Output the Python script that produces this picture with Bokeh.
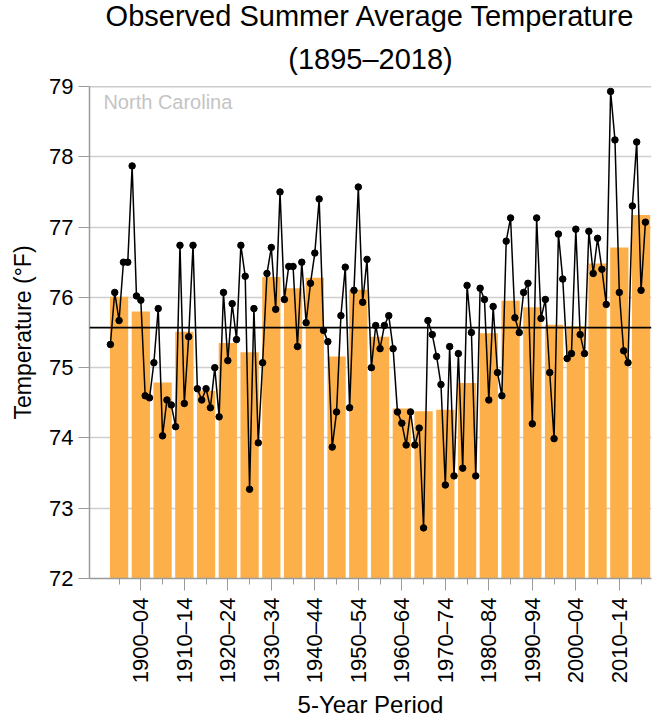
from bokeh.plotting import figure
from bokeh.models import Range1d, FixedTicker, Span, Title, ColumnDataSource
from bokeh.core.properties import value
from bokeh.embed import file_html
from bokeh.resources import INLINE

# ---- data ----
years = list(range(1895, 2019))
temps = [
    75.33, 76.07, 75.67, 76.50, 76.50,
    77.87, 76.02, 75.96, 74.60, 74.57,
    75.07, 75.84, 74.03, 74.54, 74.47,
    74.16, 76.74, 74.49, 75.44, 76.74,
    74.70, 74.54, 74.70, 74.43, 75.00,
    74.30, 76.07, 75.10, 75.91, 75.40,
    76.74, 76.30, 73.27, 75.84, 73.93,
    75.07, 76.34, 76.71, 75.83, 77.50,
    75.97, 76.44, 76.44, 75.30, 76.50,
    75.64, 76.20, 76.63, 77.40, 75.53,
    75.37, 73.87, 74.37, 75.74, 76.43,
    74.43, 76.10, 77.57, 75.93, 76.54,
    75.00, 75.60, 75.27, 75.60, 75.74,
    75.27, 74.37, 74.21, 73.90, 74.37,
    73.90, 74.14, 72.72, 75.67, 75.47,
    75.16, 74.76, 73.33, 75.30, 73.46,
    75.20, 73.57, 76.17, 75.50, 73.46,
    76.13, 75.97, 74.54, 75.87, 74.93,
    74.60, 76.80, 77.13, 75.71, 75.50,
    76.07, 76.20, 74.20, 77.13, 75.70,
    75.97, 74.93, 73.99, 76.90, 76.26,
    75.13, 75.20, 76.97, 75.47, 75.20,
    76.94, 76.34, 76.84, 76.40, 75.90,
    78.93, 78.24, 76.07, 75.24, 75.07,
    77.30, 78.21, 76.10, 77.07,
]
period_starts = list(range(1895, 2019, 5))
period_means = [
    76.01, 75.80, 74.79, 75.51, 74.67, 75.35, 75.22, 76.29, 76.13, 76.28,
    75.16, 76.11, 75.44, 74.42, 74.38, 74.40, 74.78, 75.49, 75.95, 75.86,
    75.61, 75.59, 76.48, 76.71, 77.17,
]
labeled_periods = ["1900–04", "1910–14", "1920–24", "1930–34", "1940–44", "1950–54",
                   "1960–64", "1970–74", "1980–84", "1990–94", "2000–04", "2010–14"]
labeled_starts = [1900, 1910, 1920, 1930, 1940, 1950, 1960, 1970, 1980, 1990, 2000, 2010]
long_term_mean = 75.57
state_name = "North Carolina"
title_line1 = "Observed Summer Average Temperature"
title_line2 = "(1895–2018)"

FONT = "Liberation Sans"

period_centers = [s + 2 for s in period_starts]
bar_src = ColumnDataSource(data=dict(x=period_centers, top=period_means))
line_src = ColumnDataSource(data=dict(x=years, y=temps))

p = figure(
    frame_width=562, frame_height=492,
    x_range=Range1d(1890.2, 2019.4), y_range=Range1d(72, 79),
    output_backend="svg", toolbar_location=None,
    min_border_left=89, min_border_right=14, min_border_top=86, min_border_bottom=143,
)
p.outline_line_color = None
p.background_fill_color = "white"

p.vbar(x="x", top="top", bottom=72, width=4.2, source=bar_src,
       fill_color="#FDAF4A", line_color=None)

p.add_layout(Span(location=long_term_mean, dimension="width",
                  line_color="black", line_width=1.6))

p.line(x="x", y="y", source=line_src, line_color="black", line_width=1.5)
p.scatter(x="x", y="y", source=line_src, size=6.5, fill_color="black", line_color="black")

p.add_layout(Span(location=79, dimension="width", line_color="#9a9a9a", line_width=1.5))

p.text(x=[1893.4], y=[78.93], text=[state_name], text_font=value(FONT),
       text_font_size="20px", text_color="#c4c4c4", text_baseline="top", text_align="left")

# grid
p.xgrid.grid_line_color = None
p.ygrid.grid_line_color = "#cfcfcf"
p.ygrid.grid_line_width = 1.5
p.ygrid.ticker = FixedTicker(ticks=[72, 73, 74, 75, 76, 77, 78])

# y axis
p.yaxis.ticker = FixedTicker(ticks=[72, 73, 74, 75, 76, 77, 78, 79])
p.yaxis.axis_label = "Temperature (°F)"
p.yaxis.axis_label_text_font = FONT
p.yaxis.axis_label_text_font_size = "23px"
p.yaxis.axis_label_text_font_style = "normal"
p.yaxis.axis_label_text_color = "black"
p.yaxis.axis_label_standoff = 10
p.yaxis.major_label_text_font = FONT
p.yaxis.major_label_text_font_size = "22px"
p.yaxis.major_label_text_color = "black"
p.yaxis.axis_line_color = "#9a9a9a"
p.yaxis.axis_line_width = 1.5
p.yaxis.major_tick_line_color = "#9a9a9a"
p.yaxis.major_tick_out = 11
p.yaxis.major_tick_in = 0
p.yaxis.minor_tick_line_color = None
p.yaxis.major_label_standoff = 5

# x axis
p.xaxis.ticker = FixedTicker(ticks=[s + 2 for s in labeled_starts], minor_ticks=period_centers)
p.xaxis.major_label_overrides = {s + 2: lab for s, lab in zip(labeled_starts, labeled_periods)}
p.xaxis.major_label_orientation = 1.5707963
p.xaxis.axis_label = "5-Year Period"
p.xaxis.axis_label_text_font = FONT
p.xaxis.axis_label_text_font_size = "24px"
p.xaxis.axis_label_text_font_style = "normal"
p.xaxis.axis_label_text_color = "black"
p.xaxis.axis_label_standoff = 5
p.xaxis.major_label_text_font = FONT
p.xaxis.major_label_text_font_size = "22px"
p.xaxis.major_label_text_color = "black"
p.xaxis.axis_line_color = "#9a9a9a"
p.xaxis.axis_line_width = 1.5
p.xaxis.major_tick_line_color = "#9a9a9a"
p.xaxis.minor_tick_line_color = "#9a9a9a"
p.xaxis.major_tick_out = 12
p.xaxis.major_tick_in = 0
p.xaxis.minor_tick_out = 6
p.xaxis.minor_tick_in = 0
p.xaxis.major_label_standoff = 7

# titles: the first one added sits next to the frame
p.add_layout(Title(text=title_line2, align="center", text_font=FONT, offset=6,
                   text_font_size="29px", text_font_style="normal", text_color="black",
                   standoff=24), "above")
p.add_layout(Title(text=title_line1, align="center", text_font=FONT, offset=6,
                   text_font_size="29px", text_font_style="normal", text_color="black",
                   standoff=-7), "above")

open("out.html", "w").write(file_html(p, INLINE))
